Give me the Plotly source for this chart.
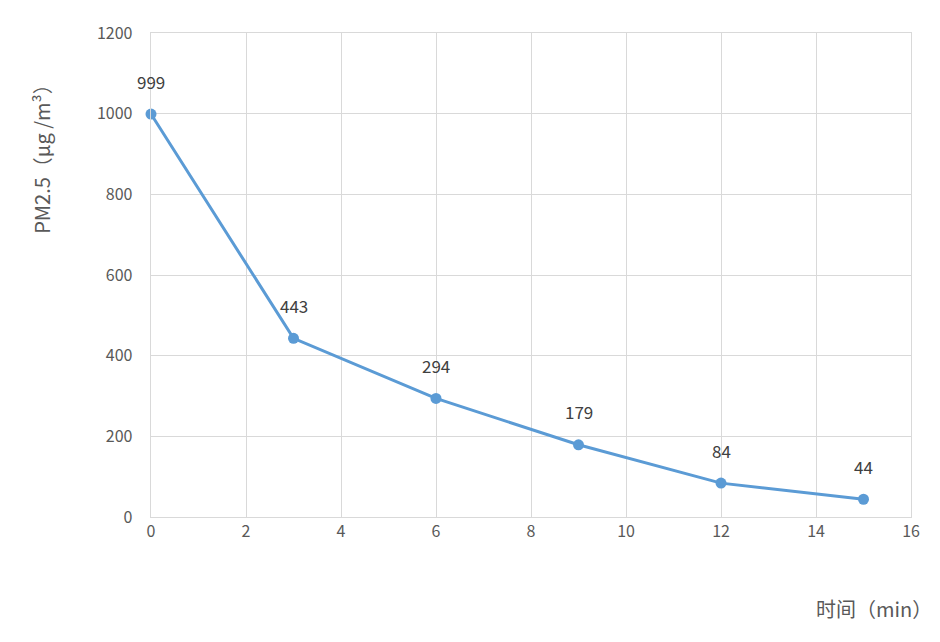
import plotly.graph_objects as go

time_min = [0, 3, 6, 9, 12, 15]
pm25 = [999, 443, 294, 179, 84, 44]
labels = [str(v) for v in pm25]

fig = go.Figure(go.Scatter(
    x=time_min, y=pm25, mode="lines+markers",
    line=dict(color="#5b9bd5", width=3),
    marker=dict(size=11, color="#5b9bd5"),
    cliponaxis=False,
))

# data labels sit a bit higher above the markers than plotly's default text
for x, y, t in zip(time_min, pm25, labels):
    fig.add_annotation(x=x, y=y, text=t, showarrow=False, yshift=33,
                       font=dict(size=17, color="#404040"))

fig.update_layout(
    width=940, height=642,
    margin=dict(l=143, r=37, t=15, b=133),
    plot_bgcolor="white", paper_bgcolor="white",
    font=dict(family="Noto Sans CJK SC", size=16, color="#595959"),
    showlegend=False,
    xaxis=dict(range=[0, 16], dtick=2, showgrid=True, gridcolor="#d9d9d9",
               zeroline=False, showline=True, linecolor="#d9d9d9", mirror=True,
               ticks="", tickfont=dict(size=16)),
    yaxis=dict(range=[0, 1200], dtick=200, showgrid=True, gridcolor="#d9d9d9",
               zeroline=False, showline=True, linecolor="#d9d9d9", mirror=True,
               ticks="", ticksuffix="    ", tickfont=dict(size=16)),
)
fig.add_annotation(text="时间（min）", x=1.03, y=-0.19, xref="paper", yref="paper",
                   xanchor="right", yanchor="middle", showarrow=False,
                   font=dict(size=20, color="#595959"))
fig.add_annotation(text="PM2.5（μg /m³）", x=-0.145, y=0.75, xref="paper", yref="paper",
                   textangle=-90, showarrow=False, xanchor="center", yanchor="middle",
                   font=dict(size=20, color="#595959"))

fig.write_html("out.html")
